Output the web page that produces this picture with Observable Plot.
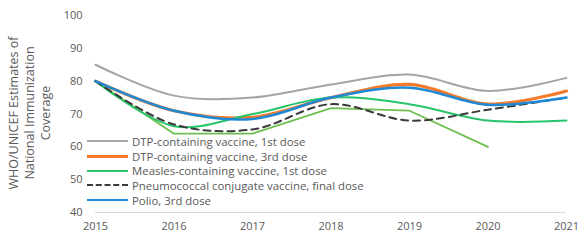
<!DOCTYPE html>
<html>
<head>
<meta charset="utf-8">
<script src="https://cdn.jsdelivr.net/npm/d3@7"></script>
<script src="https://cdn.jsdelivr.net/npm/@observablehq/plot@0.6"></script>
<style>
  html, body { margin: 0; padding: 0; background: #fff; }
  #wrap { position: relative; width: 578px; height: 241px; font-family: "Open Sans", sans-serif; }
  #ylabel { position: absolute; left: 30px; top: 113px; transform: translate(-50%, -50%) rotate(-90deg);
    white-space: nowrap; text-align: center; font-size: 12.5px; line-height: 16px; color: #595959; }
  #legend { position: absolute; left: 87px; top: 134px; font-size: 11.4px; color: #595959; }
  .row { display: flex; align-items: center; height: 14.7px; }
  .sw { width: 41px; margin-right: 4px; height: 0; }
</style>
</head>
<body>
<div id="wrap"></div>
<script>
const years = [2015, 2016, 2017, 2018, 2019, 2020, 2021];
const seriesNames = [
  "DTP-containing vaccine, 1st dose",
  "DTP-containing vaccine, 3rd dose",
  "Measles-containing vaccine, 1st dose",
  "Pneumococcal conjugate vaccine, final dose",
  "Polio, 3rd dose"
];
const dtp1 = [85, 75.6, 75, 79, 82, 77, 81];
const dtp3 = [80, 71, 69, 75, 79, 73, 77];
const mcv1 = [80, 66.3, 70, 75, 73, 68, 68];
const pcv = [80, 66.8, 65.3, 73, 68, 71.3, 75];
const polio = [80, 71, 68.5, 75, 78, 72.8, 75];
const unlabeledYears = [2015, 2016, 2017, 2018, 2019, 2020];
const unlabeled = [80, 64, 64, 71.8, 71, 60];
const yTicks = [40, 50, 60, 70, 80, 90, 100];

const styles = [
  {stroke: "#a5a5a5", strokeWidth: 2, dash: null},
  {stroke: "#f47b2b", strokeWidth: 3.2, dash: null},
  {stroke: "#27c46a", strokeWidth: 2, dash: null},
  {stroke: "#3a3a3a", strokeWidth: 2, dash: "7,5"},
  {stroke: "#1e8ad6", strokeWidth: 2.5, dash: null}
];
const values = [dtp1, dtp3, mcv1, pcv, polio];

const toRows = (arr, xs) => arr.map((v, i) => ({year: xs[i], value: v}));

const marks = [
  Plot.ruleY([40], {stroke: "#d9d9d9", strokeWidth: 1}),
  Plot.line(toRows(unlabeled, unlabeledYears), {x: "year", y: "value", stroke: "#6cbf4f", strokeWidth: 1.8, curve: "linear"})
];
values.forEach((arr, i) => {
  const s = styles[i];
  marks.push(Plot.line(toRows(arr, years), {
    x: "year", y: "value", stroke: s.stroke, strokeWidth: s.strokeWidth,
    strokeDasharray: s.dash || undefined, curve: "catmull-rom"
  }));
});

const chart = Plot.plot({
  width: 578,
  height: 241,
  marginLeft: 95,
  marginRight: 12,
  marginTop: 15,
  marginBottom: 29,
  style: {fontFamily: "Open Sans, sans-serif", fontSize: "11px", color: "#595959", background: "#fff"},
  x: {domain: [2015, 2021], ticks: years, tickFormat: d => String(d), tickSize: 0, tickPadding: 10, label: null},
  y: {domain: [40, 100], ticks: yTicks, tickSize: 0, tickPadding: 13, label: null},
  marks
});

const wrap = document.getElementById("wrap");
wrap.appendChild(chart);

const yl = document.createElement("div");
yl.id = "ylabel";
yl.innerHTML = "WHO/UNICEF Estimates of<br>National Immunization<br>Coverage";
wrap.appendChild(yl);

const lg = document.createElement("div");
lg.id = "legend";
seriesNames.forEach((name, i) => {
  const s = styles[i];
  const row = document.createElement("div");
  row.className = "row";
  const sw = document.createElement("div");
  sw.className = "sw";
  sw.style.borderTop = `${s.strokeWidth}px ${s.dash ? "dashed" : "solid"} ${s.stroke}`;
  const t = document.createElement("span");
  t.textContent = name;
  row.appendChild(sw);
  row.appendChild(t);
  lg.appendChild(row);
});
wrap.appendChild(lg);
</script>
</body>
</html>
